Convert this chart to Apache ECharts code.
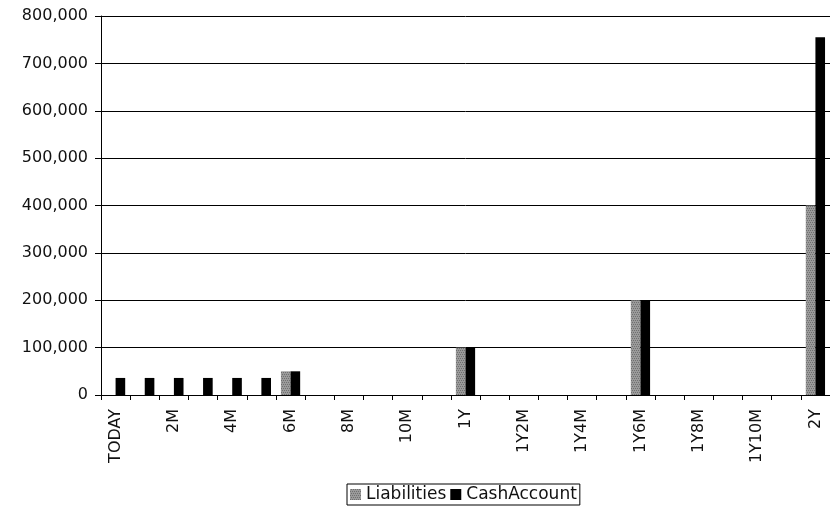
<!DOCTYPE html>
<html>
<head>
<meta charset="utf-8">
<script src="https://cdn.jsdelivr.net/npm/echarts@6/dist/echarts.min.js"></script>
<style>html,body{margin:0;padding:0;background:#fff}#c{width:830px;height:513px}</style>
</head>
<body>
<div id="c"></div>
<script>
var categories = ['TODAY','1M','2M','3M','4M','5M','6M','7M','8M','9M','10M','11M','1Y',
  '1Y1M','1Y2M','1Y3M','1Y4M','1Y5M','1Y6M','1Y7M','1Y8M','1Y9M','1Y10M','1Y11M','2Y'];
var liabilities = [0,0,0,0,0,0,50000,0,0,0,0,0,100000,0,0,0,0,0,200000,0,0,0,0,0,400000];
var cashAccount = [36000,36000,36000,36000,36000,36000,50000,0,0,0,0,0,100000,0,0,0,0,0,200000,0,0,0,0,0,755000];
var yTicks = {min:0, max:800000, interval:100000};

var chart = echarts.init(document.getElementById('c'));
var font = 'DejaVu Sans, Verdana, sans-serif';
chart.setOption({
  animation:false,
  backgroundColor:'#fff',
  textStyle:{fontFamily:font},
  grid:{left:101, top:16, bottom:118, width:733, containLabel:false},
  legend:{
    left:347, bottom:8,
    icon:'rect',
    itemWidth:11, itemHeight:11, itemGap:4,
    borderColor:'#000', borderWidth:1, padding:[2,3,2,3],
    textStyle:{fontFamily:font, fontSize:17, color:'#111'},
    data:['Liabilities','CashAccount']
  },
  xAxis:{
    type:'category', data:categories,
    axisLine:{lineStyle:{color:'#000', width:1}},
    axisTick:{show:true, interval:0, length:5, lineStyle:{color:'#000'}},
    axisLabel:{interval:1, rotate:90, fontSize:16, color:'#111', fontFamily:font, margin:14}
  },
  yAxis:{
    type:'value', min:yTicks.min, max:yTicks.max, interval:yTicks.interval,
    axisLine:{show:true, lineStyle:{color:'#000'}},
    axisTick:{show:true, length:6, lineStyle:{color:'#000'}},
    splitLine:{lineStyle:{color:'#000', width:1}},
    axisLabel:{fontSize:16, color:'#111', fontFamily:font, margin:13,
      formatter:function(v){return v.toLocaleString('en-US');}}
  },
  series:[
    {name:'Liabilities', type:'bar', data:liabilities, barGap:'0%', barCategoryGap:'34%',
     itemStyle:{color:'#9a9a9a',
       decal:{symbol:'rect', symbolSize:0.7, color:'rgba(20,20,20,0.9)',
              dashArrayX:[[1,1],[0,1,1,0]], dashArrayY:[1,1], rotation:0}}},
    {name:'CashAccount', type:'bar', data:cashAccount, barGap:'0%', barCategoryGap:'34%',
     itemStyle:{color:'#000'}}
  ]
});
</script>
</body>
</html>
